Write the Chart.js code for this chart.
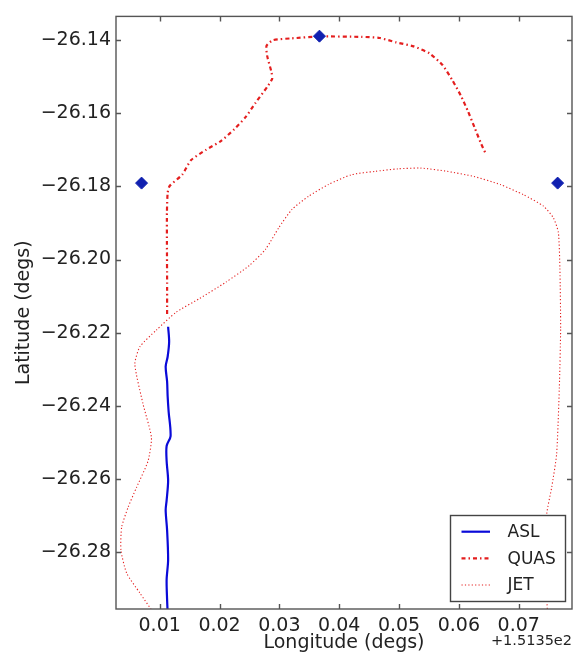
<!DOCTYPE html>
<html><head><meta charset="utf-8">
<script src="https://cdn.jsdelivr.net/npm/chart.js@4.4.1/dist/chart.umd.min.js"></script>
<style>html,body{margin:0;padding:0;background:#fff;}canvas{display:block;}</style>
</head><body>
<canvas id="c" width="579" height="653"></canvas>
<script>
// ---- data (longitude given as offset from 151.35 deg) ----
const LON_OFFSET_LABEL = '+1.5135e2';
const X_MIN = 0.0027, X_MAX = 0.0789;
const Y_MIN = -26.2956, Y_MAX = -26.1335;
const X_TICKS = [0.01, 0.02, 0.03, 0.04, 0.05, 0.06, 0.07];
const X_TICK_LABELS = ['0.01', '0.02', '0.03', '0.04', '0.05', '0.06', '0.07'];
const Y_TICKS = [-26.14, -26.16, -26.18, -26.20, -26.22, -26.24, -26.26, -26.28];
const Y_TICK_LABELS = ['\u221226.14', '\u221226.16', '\u221226.18', '\u221226.20', '\u221226.22', '\u221226.24', '\u221226.26', '\u221226.28'];

const ASL_LON = [0.01141, 0.01158, 0.01133, 0.01100, 0.01124, 0.01133, 0.01149, 0.01182, 0.01116, 0.01116, 0.01141, 0.01116, 0.01100, 0.01124, 0.01141, 0.01116, 0.01124, 0.01133];
const ASL_LAT = [-26.2184, -26.2225, -26.2266, -26.2293, -26.2334, -26.2374, -26.2415, -26.2483, -26.2510, -26.2551, -26.2605, -26.2659, -26.2686, -26.2741, -26.2822, -26.2876, -26.2931, -26.2965];

const QUAS_LON = [0.01124, 0.01124, 0.01121, 0.01121, 0.01133, 0.01166, 0.01376, 0.01526, 0.01774, 0.02022, 0.02244, 0.02438, 0.02604, 0.02796, 0.02879, 0.02869, 0.02796, 0.02786, 0.02896, 0.03211, 0.03670, 0.04371, 0.04677, 0.04952, 0.05245, 0.05506, 0.05726, 0.05892, 0.06030, 0.06153, 0.06262, 0.06373, 0.06444];
const QUAS_LAT = [-26.2149, -26.2062, -26.1954, -26.1872, -26.1818, -26.1799, -26.1768, -26.1728, -26.1700, -26.1676, -26.1644, -26.1610, -26.1571, -26.1528, -26.1506, -26.1488, -26.1443, -26.1415, -26.1400, -26.1395, -26.1390, -26.1391, -26.1394, -26.1406, -26.1417, -26.1436, -26.1468, -26.1510, -26.1551, -26.1595, -26.1639, -26.1684, -26.1709];

const JET_LON = [0.00890, 0.00668, 0.00448, 0.00353, 0.00365, 0.00474, 0.00614, 0.00806, 0.00862, 0.00723, 0.00585, 0.00668, 0.00945, 0.01277, 0.01663, 0.02106, 0.02493, 0.02769, 0.02990, 0.03211, 0.03488, 0.03819, 0.04206, 0.04594, 0.04980, 0.05367, 0.05809, 0.06252, 0.06693, 0.07081, 0.07413, 0.07579, 0.07662, 0.07688, 0.07700, 0.07678, 0.07633, 0.07551, 0.07468, 0.07439, 0.07479];
const JET_LAT = [-26.2965, -26.2912, -26.2858, -26.2795, -26.2732, -26.2677, -26.2623, -26.2551, -26.2487, -26.2396, -26.2287, -26.2239, -26.2193, -26.2144, -26.2107, -26.2062, -26.2017, -26.1972, -26.1913, -26.1863, -26.1827, -26.1795, -26.1768, -26.1759, -26.1752, -26.1750, -26.1759, -26.1773, -26.1795, -26.1823, -26.1854, -26.1886, -26.1926, -26.2026, -26.2189, -26.2352, -26.2532, -26.2623, -26.2695, -26.2804, -26.2963];

const SITE_LON = [0.00697, 0.03670, 0.07650];
const SITE_LAT = [-26.1791, -26.1389, -26.1791];

const LEGEND_LABELS = ['ASL', 'QUAS', 'JET'];

// ---- styles ----
const FONT = 'DejaVu Sans';
const BLUE = '#0a0ad8';
const RED = '#e41e1e';
const pairs = (xs, ys) => xs.map((x, i) => ({x: x, y: ys[i]}));

const styles = [
  {color: BLUE, width: 2.2, dash: []},
  {color: RED, width: 2.2, dash: [4, 3, 1.5, 3]},
  {color: RED, width: 1.1, dash: [1.2, 2.2]}
];

const decorPlugin = {
  id: 'decor',
  beforeDraw(chart) {
    const c = chart.ctx;
    c.save(); c.fillStyle = '#fff'; c.fillRect(0, 0, chart.width, chart.height); c.restore();
  },
  afterDraw(chart) {
    const c = chart.ctx, a = chart.chartArea;
    const xs = chart.scales.x, ys = chart.scales.y;
    c.save();
    c.strokeStyle = '#555'; c.lineWidth = 1.4; c.setLineDash([]);
    c.strokeRect(a.left, a.top, a.right - a.left, a.bottom - a.top);
    c.beginPath();
    X_TICKS.forEach(v => {
      const p = Math.round(xs.getPixelForValue(v)) + 0.5;
      c.moveTo(p, a.bottom); c.lineTo(p, a.bottom - 5);
      c.moveTo(p, a.top); c.lineTo(p, a.top + 5);
    });
    Y_TICKS.forEach(v => {
      const p = Math.round(ys.getPixelForValue(v)) + 0.5;
      c.moveTo(a.left, p); c.lineTo(a.left + 5, p);
      c.moveTo(a.right, p); c.lineTo(a.right - 5, p);
    });
    c.stroke();
    // offset text
    c.fillStyle = '#222'; c.font = '14.5px "' + FONT + '"';
    c.textAlign = 'right'; c.textBaseline = 'middle';
    c.fillText(LON_OFFSET_LABEL, a.right, 641);
    // legend
    const bx = 450.5, by = 515.5, bw = 115, bh = 86;
    c.fillStyle = '#fff'; c.fillRect(bx, by, bw, bh);
    c.strokeStyle = '#444'; c.lineWidth = 1.4; c.strokeRect(bx, by, bw, bh);
    c.font = '17px "' + FONT + '"'; c.textAlign = 'left'; c.textBaseline = 'middle';
    const rows = [531.7, 558.3, 585];
    LEGEND_LABELS.forEach((lab, i) => {
      const s = styles[i];
      c.strokeStyle = s.color; c.lineWidth = s.width; c.setLineDash(s.dash);
      c.beginPath(); c.moveTo(461.5, rows[i]); c.lineTo(490, rows[i]); c.stroke();
      c.setLineDash([]);
      c.fillStyle = '#222'; c.fillText(lab, 507.5, rows[i] + 1);
    });
    c.restore();
  }
};

new Chart(document.getElementById('c'), {
  type: 'scatter',
  data: {
    datasets: [
      {label: LEGEND_LABELS[0], data: pairs(ASL_LON, ASL_LAT), showLine: true, borderColor: styles[0].color,
       borderWidth: styles[0].width, pointRadius: 0, tension: 0.3, order: 3},
      {label: LEGEND_LABELS[1], data: pairs(QUAS_LON, QUAS_LAT), showLine: true, borderColor: styles[1].color,
       borderWidth: styles[1].width, borderDash: styles[1].dash, pointRadius: 0, tension: 0.2, order: 2},
      {label: LEGEND_LABELS[2], data: pairs(JET_LON, JET_LAT), showLine: true, borderColor: styles[2].color,
       borderWidth: styles[2].width, borderDash: styles[2].dash, pointRadius: 0, tension: 0.2, order: 4},
      {label: 'sites', data: pairs(SITE_LON, SITE_LAT), showLine: false, pointStyle: 'rectRot', pointRadius: 6,
       backgroundColor: '#1020b0', borderColor: '#1020b0', borderWidth: 1, order: 1}
    ]
  },
  options: {
    responsive: false, animation: false, devicePixelRatio: 1,
    layout: {padding: {top: 12, right: 4, left: 0, bottom: 0}},
    plugins: {legend: {display: false}, tooltip: {enabled: false}},
    scales: {
      x: {
        type: 'linear', min: X_MIN, max: X_MAX,
        afterBuildTicks: s => { s.ticks = X_TICKS.map(v => ({value: v})); },
        afterFit: s => { s.height = 44; },
        grid: {display: false, drawTicks: false}, border: {display: false},
        ticks: {padding: 6, color: '#222', font: {family: FONT, size: 19},
                callback: (v) => X_TICK_LABELS[X_TICKS.findIndex(t => Math.abs(t - v) < 1e-9)] ?? ''},
        title: {display: true, text: 'Longitude (degs)', color: '#222', font: {family: FONT, size: 19, lineHeight: 1}, padding: {top: 0, bottom: 0}}
      },
      y: {
        type: 'linear', min: Y_MIN, max: Y_MAX,
        afterBuildTicks: s => { s.ticks = Y_TICKS.map(v => ({value: v})); },
        afterFit: s => { s.width = 116; },
        grid: {display: false, drawTicks: false}, border: {display: false},
        ticks: {padding: 5, color: '#222', font: {family: FONT, size: 19},
                callback: (v) => Y_TICK_LABELS[Y_TICKS.findIndex(t => Math.abs(t - v) < 1e-9)] ?? ''},
        title: {display: true, text: 'Latitude (degs)', color: '#222', font: {family: FONT, size: 19}, padding: {top: 13, bottom: 0}}
      }
    }
  },
  plugins: [decorPlugin]
});
</script>
</body></html>
